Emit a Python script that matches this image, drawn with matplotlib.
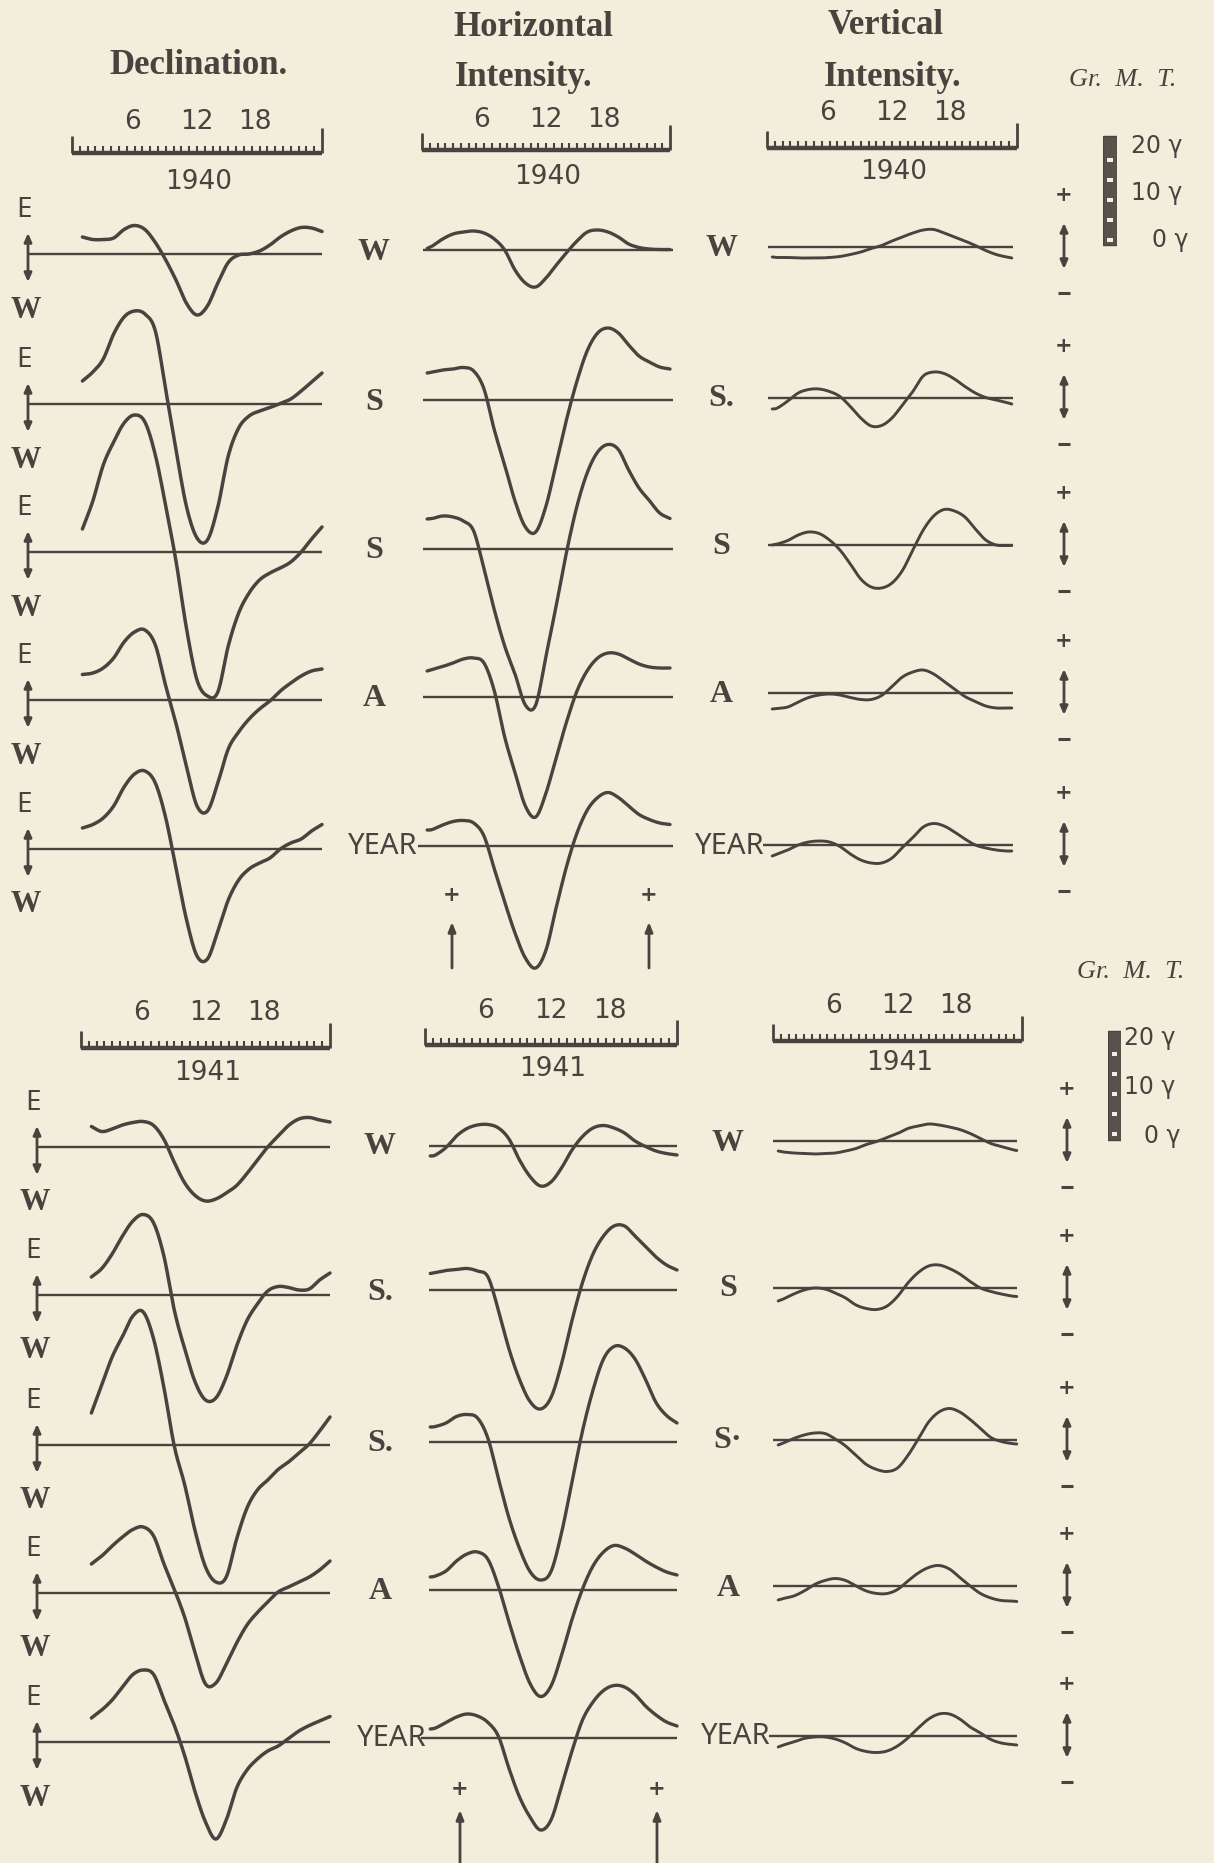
import numpy as np
import matplotlib
matplotlib.use("Agg")
import matplotlib.pyplot as plt
from matplotlib.patches import Rectangle

# ------------------------------------------------------------------
# DATA  (mean diurnal variation, values in gamma; hours local scale 0-24)
# ------------------------------------------------------------------
HOURS_D = list(range(1, 25))
HOURS_H = [0.5] + list(range(1, 25))
HOURS_Z = [0.5] + list(range(1, 24)) + [23.5]

SEASONS = ["W", "S", "S", "A", "YEAR"]
TICK_LABELS = ["6", "12", "18"]
TICK_HOURS = [5.8, 12.0, 17.6]
YEARS = ["1940", "1941"]
GAMMA_LABELS = ["20 γ", "10 γ", "0 γ"]
GAMMA_VALUES = [20, 10, 0]

# Declination 1940
D40_W = [3.4, 2.9, 2.9, 3.2, 4.9, 5.7, 4.9, 2.3, -1.2, -5.3, -9.9, -12.2, -10.4, -5.8, -1.7, -0.2, 0.0, 0.6, 1.8, 3.4, 4.6, 5.3, 5.2, 4.5]
D40_S1 = [4.6, 6.4, 9.0, 14.0, 17.4, 18.6, 18.0, 14.6, 2.8, -9.4, -20.6, -26.8, -27.2, -20.6, -10.4, -4.8, -2.4, -1.4, -0.7, 0.1, 1.0, 2.6, 4.4, 6.2]
D40_S2 = [4.6, 10.2, 17.4, 22.0, 25.8, 27.4, 26.0, 19.4, 9.2, -2.0, -15.4, -25.6, -28.8, -28.0, -18.8, -12.2, -8.2, -5.6, -4.2, -3.2, -2.0, 0.0, 2.6, 5.0]
D40_A = [5.1, 5.4, 6.4, 8.4, 11.6, 13.6, 14.0, 11.0, 2.8, -4.8, -13.4, -21.2, -22.2, -16.6, -9.8, -6.4, -3.8, -1.8, -0.2, 1.8, 3.4, 4.8, 5.8, 6.2]
D40_Y = [4.2, 4.9, 6.2, 8.6, 12.4, 15.0, 15.6, 13.2, 6.2, -4.0, -14.2, -21.4, -22.0, -16.4, -10.2, -6.2, -4.0, -2.8, -1.8, 0.0, 1.2, 2.0, 3.6, 4.9]

# Horizontal intensity 1940
H40_W = [0.3, 0.8, 2.2, 3.2, 3.6, 3.8, 3.4, 2.2, 0.0, -4.0, -6.6, -7.4, -5.6, -3.0, -0.5, 1.8, 3.6, 4.0, 3.6, 2.6, 1.2, 0.5, 0.2, 0.1, 0.1]
H40_S1 = [5.4, 5.6, 6.0, 6.2, 6.5, 5.8, 2.2, -6.0, -13.0, -20.2, -25.4, -26.4, -21.2, -12.6, -3.8, 3.8, 9.9, 13.4, 14.4, 13.4, 11.0, 8.8, 7.6, 6.6, 6.2]
H40_S2 = [6.0, 6.1, 6.6, 6.4, 5.6, 3.6, -4.0, -12.2, -19.4, -25.0, -31.2, -31.2, -21.4, -11.2, -0.5, 8.6, 15.3, 19.4, 20.9, 19.9, 15.8, 12.2, 9.7, 7.2, 6.1]
H40_A = [5.2, 5.5, 6.1, 6.8, 7.6, 7.8, 6.8, 1.2, -8.0, -15.1, -21.8, -24.0, -19.2, -12.0, -4.9, 1.2, 5.3, 7.8, 8.8, 8.6, 7.6, 6.6, 6.0, 5.8, 5.8]
H40_Y = [3.2, 3.3, 4.2, 4.9, 5.1, 4.6, 2.0, -4.6, -11.2, -17.4, -22.4, -24.4, -20.8, -12.2, -4.0, 2.6, 7.2, 9.7, 10.7, 9.7, 8.0, 6.3, 5.3, 4.6, 4.3]

# Vertical intensity 1940
Z40_W = [-2.0, -2.1, -2.1, -2.2, -2.2, -2.2, -2.1, -1.9, -1.5, -1.0, -0.3, 0.3, 1.2, 2.0, 2.8, 3.4, 3.5, 2.8, 2.0, 1.2, 0.3, -0.7, -1.5, -2.0, -2.2]
Z40_S1 = [-2.2, -2.0, -0.6, 1.0, 1.7, 1.8, 1.3, 0.3, -1.7, -4.0, -5.6, -5.5, -4.0, -1.4, 1.3, 4.4, 5.2, 4.9, 3.8, 2.3, 1.0, 0.1, -0.4, -0.9, -1.2]
Z40_S2 = [0.0, 0.2, 0.9, 2.0, 2.6, 2.3, 1.0, -1.0, -3.8, -6.8, -8.4, -8.6, -7.6, -5.1, -1.0, 3.0, 5.8, 7.1, 6.8, 5.6, 3.2, 1.0, 0.0, -0.1, -0.1]
Z40_A = [-3.2, -3.1, -2.8, -1.8, -0.9, -0.4, -0.2, -0.4, -0.9, -1.3, -1.3, -0.5, 1.3, 3.2, 4.2, 4.6, 3.8, 2.3, 0.8, -0.7, -1.7, -2.6, -3.0, -3.0, -3.0]
Z40_Y = [-2.2, -1.8, -1.0, 0.0, 0.6, 0.8, 0.6, -0.3, -1.8, -3.0, -3.6, -3.6, -2.6, -0.5, 1.5, 3.6, 4.3, 3.8, 2.6, 1.2, 0.0, -0.6, -1.0, -1.2, -1.2]

# Declination 1941
D41_W = [4.1, 3.1, 3.6, 4.4, 4.9, 5.1, 4.3, 1.5, -3.1, -7.2, -9.7, -10.8, -10.4, -9.2, -7.7, -5.3, -2.6, 0.0, 2.2, 4.3, 5.6, 5.9, 5.4, 5.0]
D41_S1 = [3.6, 5.3, 8.2, 11.8, 14.8, 16.1, 14.4, 7.7, -3.1, -10.8, -17.4, -21.0, -20.6, -16.4, -10.2, -5.1, -1.8, 0.8, 1.7, 1.5, 1.0, 1.2, 3.0, 4.4]
D41_S2 = [6.4, 12.0, 17.6, 21.7, 25.8, 26.6, 21.2, 11.4, -0.3, -8.0, -17.2, -24.4, -27.4, -26.4, -18.8, -12.6, -9.0, -7.0, -4.9, -3.4, -1.6, 0.2, 2.8, 5.6]
D41_A = [5.8, 7.4, 9.4, 11.2, 12.7, 13.2, 11.4, 5.8, 0.7, -4.9, -12.0, -18.2, -18.0, -14.2, -10.0, -6.4, -3.9, -1.8, 0.2, 1.2, 2.2, 3.2, 4.6, 6.4]
D41_Y = [4.8, 6.4, 8.4, 11.0, 13.5, 14.4, 13.5, 8.4, 3.3, -2.8, -10.0, -16.0, -19.4, -15.6, -9.2, -5.6, -3.4, -1.8, -0.8, 0.7, 2.2, 3.3, 4.2, 5.1]

# Horizontal intensity 1941
H41_W = [-2.0, -1.8, -0.3, 2.0, 3.5, 4.2, 4.3, 3.6, 1.4, -2.8, -6.1, -8.0, -7.2, -4.4, -0.8, 1.9, 3.6, 4.1, 3.6, 2.6, 1.0, -0.1, -1.0, -1.5, -1.8]
H41_S1 = [3.3, 3.5, 3.9, 4.1, 4.3, 3.8, 2.6, -4.1, -11.8, -17.9, -22.3, -23.8, -21.5, -14.8, -6.1, 1.5, 7.2, 10.8, 12.8, 12.8, 10.8, 8.7, 6.6, 5.0, 4.0]
H41_S2 = [3.0, 3.1, 3.8, 5.1, 5.5, 4.8, 0.7, -7.4, -15.2, -21.3, -25.9, -27.6, -25.9, -18.2, -8.0, 2.2, 10.4, 16.6, 19.1, 18.8, 16.6, 12.5, 7.9, 5.3, 3.8]
H41_A = [2.6, 2.8, 3.8, 5.8, 7.2, 7.6, 6.1, 0.7, -6.4, -13.1, -18.7, -21.3, -19.2, -13.1, -5.9, 0.2, 4.8, 7.6, 8.9, 8.4, 7.2, 5.8, 4.6, 3.6, 3.0]
H41_Y = [1.8, 2.0, 3.1, 4.2, 4.8, 4.4, 3.1, 0.3, -6.1, -11.8, -15.8, -18.4, -16.4, -9.7, -2.6, 3.6, 7.2, 9.5, 10.5, 10.2, 8.7, 6.4, 4.6, 3.2, 2.4]

# Vertical intensity 1941
Z41_W = [-2.0, -2.2, -2.4, -2.5, -2.6, -2.5, -2.4, -2.0, -1.5, -0.7, -0.1, 0.7, 1.5, 2.5, 3.0, 3.4, 3.2, 2.8, 2.3, 1.5, 0.5, -0.5, -1.1, -1.7, -1.9]
Z41_S1 = [-2.6, -2.2, -1.2, -0.4, 0.0, -0.2, -1.0, -2.0, -3.4, -4.1, -4.3, -3.6, -1.7, 1.0, 3.1, 4.4, 4.6, 3.9, 2.8, 1.3, 0.0, -0.7, -1.2, -1.6, -1.7]
Z41_S2 = [-1.0, -0.6, 0.3, 1.0, 1.4, 1.3, 0.2, -1.2, -3.1, -4.9, -5.9, -6.3, -5.6, -3.1, 0.2, 3.6, 5.6, 6.3, 5.6, 4.1, 2.3, 0.5, -0.3, -0.7, -0.8]
Z41_A = [-2.8, -2.5, -2.0, -1.0, 0.3, 1.1, 1.5, 1.1, 0.0, -1.0, -1.5, -1.5, -0.7, 1.0, 2.6, 3.7, 4.1, 3.4, 1.7, 0.0, -1.5, -2.4, -2.9, -3.0, -3.1]
Z41_Y = [-2.2, -1.8, -1.2, -0.5, -0.2, -0.2, -0.6, -1.4, -2.5, -3.1, -3.3, -3.0, -2.0, -0.4, 1.6, 3.4, 4.4, 4.4, 3.4, 1.8, 0.6, -0.7, -1.4, -1.7, -1.8]

CURVES = {
    ("1940", "D"): [D40_W, D40_S1, D40_S2, D40_A, D40_Y],
    ("1940", "H"): [H40_W, H40_S1, H40_S2, H40_A, H40_Y],
    ("1940", "Z"): [Z40_W, Z40_S1, Z40_S2, Z40_A, Z40_Y],
    ("1941", "D"): [D41_W, D41_S1, D41_S2, D41_A, D41_Y],
    ("1941", "H"): [H41_W, H41_S1, H41_S2, H41_A, H41_Y],
    ("1941", "Z"): [Z41_W, Z41_S1, Z41_S2, Z41_A, Z41_Y],
}
HOURS = {"D": HOURS_D, "H": HOURS_H, "Z": HOURS_Z}

# ------------------------------------------------------------------
# LAYOUT (pixels of the 1214 x 1863 page)
# ------------------------------------------------------------------
W, H = 1214, 1863
DPI = 100
PX = 5.0                       # pixels per gamma
BG = "#f3eddb"
INK = "#48433f"

LAYOUT = {
    "1940": dict(
        bars={"D": (72, 322, 153), "H": (422, 670, 150), "Z": (767, 1017, 148)},
        lab_dy={"D": (31, 29), "H": (30, 27), "Z": (35, 24)},
        base={"D": [254, 404, 552, 700, 849], "H": [250, 400, 549, 697, 846],
              "Z": [247, 398, 545, 693, 845]},
        base_span={"D": (-4.2, 24.0), "H": (0.1, 24.3), "Z": (0.1, 23.6)},
        ew_x=(24, 26, 28),
        lab_left=(374, 418, ["W", "S", "S", "A"]),
        lab_right=(721, 765, ["W", "S.", "S", "A"]),
        zpm_x=1064,
        hi_marks=(452, 649, 895, 922, 968),
        legend=dict(x=(1103, 1117), y0=240, lab=[(1157, 146), (1157, 193), (1170, 240)]),
        gmt=(1123, 80),
    ),
    "1941": dict(
        bars={"D": (81, 330, 1048), "H": (425, 677, 1045), "Z": (773, 1022, 1041)},
        lab_dy={"D": (35, 25), "H": (34, 24), "Z": (35, 22)},
        base={"D": [1147, 1295, 1445, 1593, 1742], "H": [1146, 1290, 1442, 1590, 1738],
              "Z": [1141, 1288, 1440, 1586, 1736]},
        base_span={"D": (-4.2, 24.0), "H": (0.4, 24.0), "Z": (0.0, 23.5)},
        ew_x=(33, 35, 37),
        lab_left=(380, 427, ["W", "S.", "S.", "A"]),
        lab_right=(728, 771, ["W", "S", "S·", "A"]),
        zpm_x=1067,
        hi_marks=(460, 657, 1789, 1810, 1870),
        legend=dict(x=(1108, 1121), y0=1134, lab=[(1150, 1038), (1150, 1087), (1162, 1136)]),
        gmt=(1131, 972),
    ),
}

SERIF = ["Liberation Serif", "DejaVu Serif"]
SANS = ["DejaVu Sans"]
LABEL_SANS = ["Noto Sans", "DejaVu Sans"]


def smooth(x, y, n=16):
    """Catmull-Rom rendering of the hourly readings (drawing only)."""
    x = np.asarray(x, float)
    y = np.asarray(y, float)
    xp = np.concatenate([[2 * x[0] - x[1]], x, [2 * x[-1] - x[-2]]])
    yp = np.concatenate([[2 * y[0] - y[1]], y, [2 * y[-1] - y[-2]]])
    t = np.linspace(0, 1, n, endpoint=False)
    ox, oy = [], []
    for i in range(1, len(xp) - 2):
        for arr, out in ((xp, ox), (yp, oy)):
            p0, p1, p2, p3 = arr[i - 1], arr[i], arr[i + 1], arr[i + 2]
            out.extend(0.5 * ((2 * p1) + (-p0 + p2) * t +
                              (2 * p0 - 5 * p1 + 4 * p2 - p3) * t ** 2 +
                              (-p0 + 3 * p1 - 3 * p2 + p3) * t ** 3))
    ox.append(x[-1])
    oy.append(y[-1])
    return np.array(ox), np.array(oy)


fig = plt.figure(figsize=(W / DPI, H / DPI), dpi=DPI, facecolor=BG)
page = fig.add_axes([0, 0, 1, 1])
page.set_xlim(0, W)
page.set_ylim(H, 0)
page.axis("off")


def px_axes(x0, x1, yc, half):
    ax = fig.add_axes([x0 / W, 1 - (yc + half) / H, (x1 - x0) / W, 2 * half / H])
    ax.axis("off")
    return ax


def scale_bar(x0, x1, y, dy_lab, dy_year, year):
    ax = px_axes(x0, x1, y, 50)
    ax.set_xlim(0, 24)
    ax.set_ylim(-50, 50)
    ax.plot([0, 24], [0, 0], color=INK, lw=3.2, solid_capstyle="butt", clip_on=False)
    ticks = np.arange(0.75, 23.9, 0.75)
    ax.vlines(ticks, 0, 7.5, color=INK, lw=1.5, clip_on=False)
    ax.vlines([0], 0, 17, color=INK, lw=2.0, clip_on=False)
    ax.vlines([24], 0, 25, color=INK, lw=2.0, clip_on=False)
    for lab, hr in zip(TICK_LABELS, TICK_HOURS):
        ax.text(hr, dy_lab, lab, ha="center", va="center", fontsize=19,
                family=SANS, color=INK)
    ax.text(12.2, -dy_year, year, ha="center", va="center", fontsize=19,
            family=SANS, color=INK)


def panel(x0, x1, base, hours, vals, span, lw):
    R = 40
    ax = px_axes(x0, x1, base, R * PX)
    ax.set_xlim(0, 24)
    ax.set_ylim(-R, R)
    ax.plot(list(span), [0, 0], color=INK, lw=1.7, solid_capstyle="butt", clip_on=False)
    sx, sy = smooth(hours, vals)
    ax.plot(sx, sy, color=INK, lw=lw, clip_on=False, solid_capstyle="round",
            solid_joinstyle="round")


def vert_arrow(x, y_top, y_bot, both=True, lw=2.0):
    style = "<|-|>,head_length=0.5,head_width=0.22" if both else "-|>,head_length=0.55,head_width=0.22"
    page.annotate("", xy=(x, y_top), xytext=(x, y_bot),
                  arrowprops=dict(arrowstyle=style, color=INK, lw=lw,
                                  shrinkA=0, shrinkB=0))


# ---------------- titles ----------------
tkw = dict(ha="center", va="center", fontsize=25, family=SERIF, weight="bold", color=INK)
page.text(199, 65, "Declination.", **tkw)
page.text(533, 28, "Horizontal", **tkw)
page.text(524, 77, "Intensity.", **tkw)
page.text(886, 25, "Vertical", **tkw)
page.text(893, 77, "Intensity.", **tkw)

lw_map = {"D": 2.5, "H": 2.4, "Z": 2.1}

for year in YEARS:
    L = LAYOUT[year]
    # scale bars
    for comp in ("D", "H", "Z"):
        x0, x1, yb = L["bars"][comp]
        dl, dy = L["lab_dy"][comp]
        scale_bar(x0, x1, yb, dl, dy, year)
    # curves
    for comp in ("D", "H", "Z"):
        x0, x1, _ = L["bars"][comp]
        for i, vals in enumerate(CURVES[(year, comp)]):
            assert len(vals) == len(HOURS[comp])
            span = L["base_span"][comp]
            if SEASONS[i] == "YEAR" and comp in ("H", "Z"):
                span = (-0.4, span[1])
            panel(x0, x1, L["base"][comp][i], HOURS[comp], vals, span, lw_map[comp])

    # declination E/W arrows
    ex, wx, ax_x = L["ew_x"]
    for b in L["base"]["D"]:
        page.text(ex, b - 44, "E", ha="center", va="center", fontsize=20,
                  family=LABEL_SANS, color=INK)
        page.text(wx, b + 56, "W", ha="center", va="center", fontsize=22,
                  family=SERIF, weight="bold", color=INK)
        vert_arrow(ax_x, b - 21, b + 28)

    # season labels between columns
    for key, c1, c2 in (("lab_left", "D", "H"), ("lab_right", "H", "Z")):
        xc, xr, labs = L[key]
        for i in range(4):
            yc = 0.5 * (L["base"][c1][i] + L["base"][c2][i])
            page.text(xc, yc, labs[i], ha="center", va="center", fontsize=23,
                      family=SERIF, weight="bold", color=INK)
        page.text(xr, L["base"][c2][4] + 1, "YEAR", ha="right", va="center",
                  fontsize=21, family=LABEL_SANS, weight="medium", color=INK)

    # vertical intensity +/- indicators
    zx = L["zpm_x"]
    for b in L["base"]["Z"]:
        page.text(zx, b - 52, "+", ha="center", va="center", fontsize=15,
                  family=SANS, weight="bold", color=INK)
        page.plot([zx - 6, zx + 6], [b + 46, b + 46], color=INK, lw=2.2,
                  solid_capstyle="butt")
        vert_arrow(zx, b - 24, b + 22)

    # horizontal intensity markers
    m1, m2, yp, ytip, ytail = L["hi_marks"]
    for mx in (m1, m2):
        page.text(mx, yp, "+", ha="center", va="center", fontsize=15,
                  family=SANS, weight="bold", color=INK)
        vert_arrow(mx, ytip, ytail, both=False, lw=2.0)

    # gamma scale legend
    lg = L["legend"]
    lx0, lx1 = lg["x"]
    lax = fig.add_axes([lx0 / W, 1 - (lg["y0"] + 12) / H, (lx1 - lx0) / W, 125 / H])
    lax.axis("off")
    lax.set_xlim(0, 1)
    lax.set_ylim(-12 / PX, 113 / PX)
    lax.add_patch(Rectangle((0, -1.1), 1, 21.8, facecolor="#58524c", edgecolor=INK, lw=1.0))
    for g in range(0, 20, 4):
        lax.add_patch(Rectangle((0.3, g - 0.45), 0.4, 0.9, facecolor="#f4efe0", edgecolor="none"))
    for (tx, ty), lab in zip(lg["lab"], GAMMA_LABELS):
        page.text(tx, ty, lab, ha="center", va="center", fontsize=17,
                  family=SANS, color=INK)
    gx, gy = L["gmt"]
    page.text(gx, gy, "Gr.  M.  T.", ha="center", va="center", fontsize=19,
              family=SERIF, style="italic", color=INK)

fig.savefig("out.png", dpi=DPI, facecolor=BG)
